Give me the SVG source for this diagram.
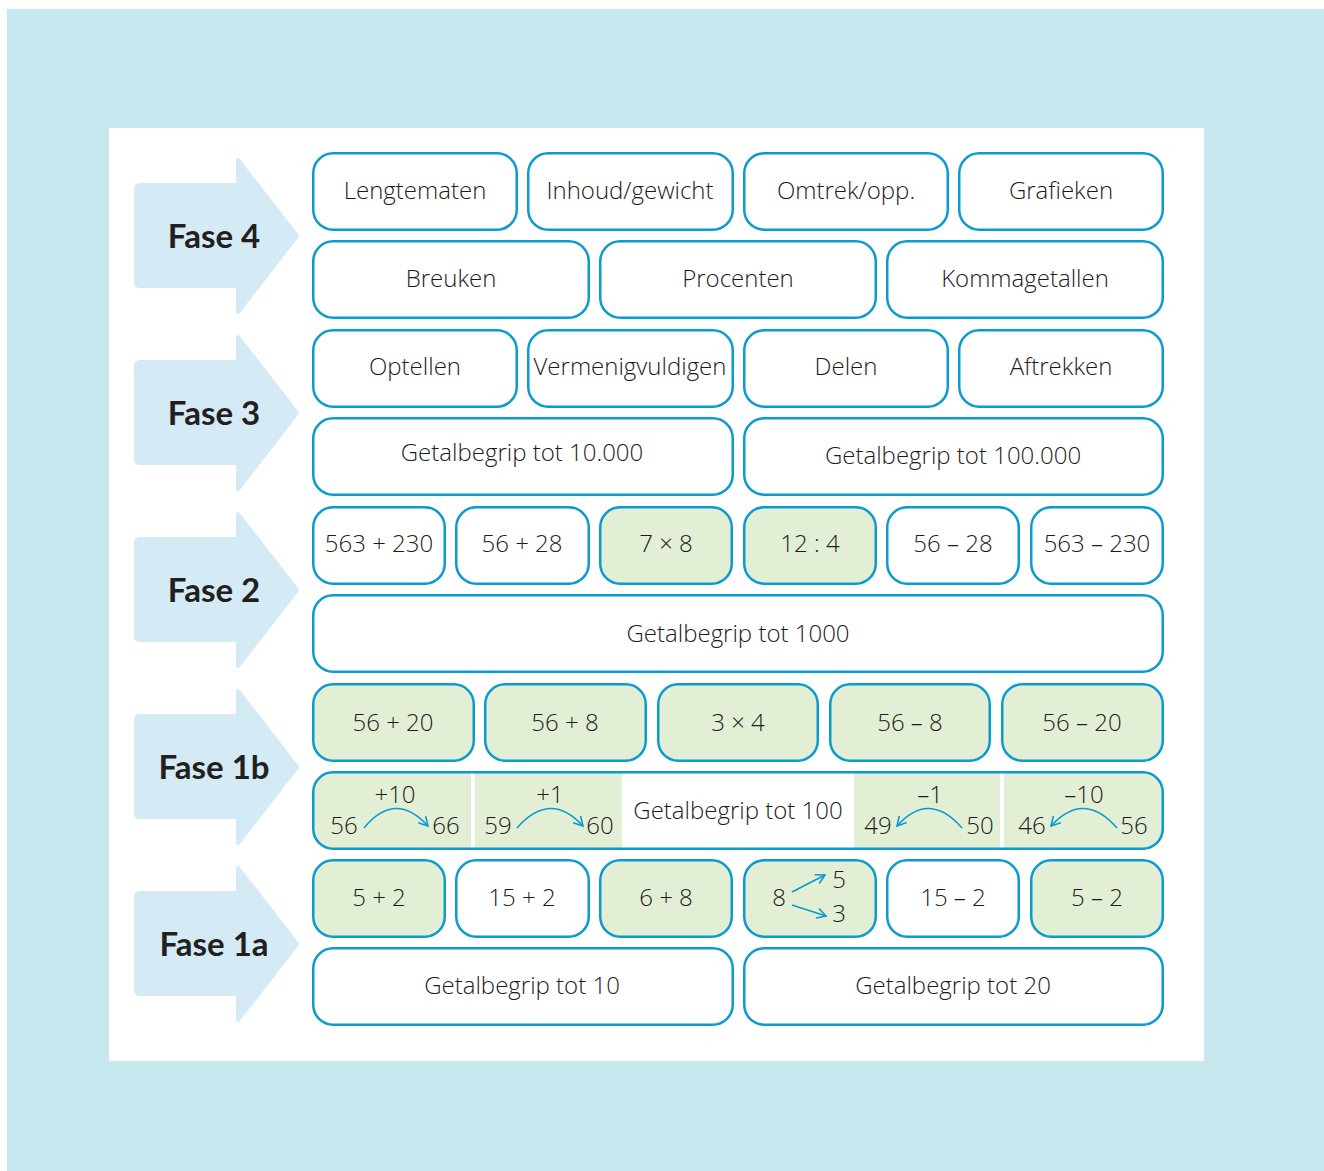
<svg xmlns="http://www.w3.org/2000/svg" width="1324" height="1171" viewBox="0 0 1324 1171">
<style>
.b{fill:#ffffff;stroke:#0b9bd0;stroke-width:2.5}
.g{fill:#e2efd5;stroke:#0b9bd0;stroke-width:2.5}
.t{font-family:"Open Sans","Liberation Sans",sans-serif;font-size:24px;font-weight:300;fill:#1e1b1c;text-anchor:middle}
.f{font-family:Lato,"Liberation Sans",sans-serif;font-size:33px;font-weight:bold;fill:#231f20;text-anchor:middle}
.ar{fill:#d4eaf4;stroke:#d4eaf4;stroke-width:4;stroke-linejoin:round}
.c{fill:none;stroke:#0b9bd0;stroke-width:1.6}
</style>
<defs>
<marker id="m" viewBox="0 0 12 12" refX="10" refY="6" markerWidth="12" markerHeight="12" markerUnits="userSpaceOnUse" orient="auto">
<path d="M1,1 L10,6 L1,11" fill="none" stroke="#0b9bd0" stroke-width="1.6"/>
</marker>
<clipPath id="r8"><rect x="313" y="772" width="850" height="77" rx="20"/></clipPath>
</defs>
<rect x="0" y="0" width="1324" height="1171" fill="#ffffff"/>
<rect x="7" y="9" width="1317" height="1162" fill="#c8e8ef"/>
<rect x="109" y="128" width="1095" height="933" fill="#ffffff"/>

<g id="phases">
<g id="fase4"><path class="ar" d="M140,185 H238 V160 L297,236 L238,312 V286 H140 Q136,286 136,282 V189 Q136,185 140,185 Z"/><text class="f" x="214" y="248">Fase 4</text></g>
<g id="fase3"><path class="ar" d="M140,362 H238 V337 L297,413 L238,489 V463 H140 Q136,463 136,459 V366 Q136,362 140,362 Z"/><text class="f" x="214" y="425">Fase 3</text></g>
<g id="fase2"><path class="ar" d="M140,539 H238 V514 L297,590 L238,666 V640 H140 Q136,640 136,636 V543 Q136,539 140,539 Z"/><text class="f" x="214" y="602">Fase 2</text></g>
<g id="fase1b"><path class="ar" d="M140,716 H238 V691 L297,767 L238,843 V817 H140 Q136,817 136,813 V720 Q136,716 140,716 Z"/><text class="f" x="214" y="779">Fase 1b</text></g>
<g id="fase1a"><path class="ar" d="M140,893 H238 V868 L297,944 L238,1020 V994 H140 Q136,994 136,990 V897 Q136,893 140,893 Z"/><text class="f" x="214" y="956">Fase 1a</text></g>
</g>

<g id="row1">
<g id="lengtematen"><rect class="b" x="313.25" y="153.25" width="203.5" height="76.5" rx="20"/><text class="t" x="415" y="199">Lengtematen</text></g>
<g id="inhoud"><rect class="b" x="528.25" y="153.25" width="204.5" height="76.5" rx="20"/><text class="t" x="630" y="199">Inhoud/gewicht</text></g>
<g id="omtrek"><rect class="b" x="744.25" y="153.25" width="203.5" height="76.5" rx="20"/><text class="t" x="846" y="199">Omtrek/opp.</text></g>
<g id="grafieken"><rect class="b" x="959.25" y="153.25" width="203.5" height="76.5" rx="20"/><text class="t" x="1061" y="199">Grafieken</text></g>
</g>
<g id="row2">
<g id="breuken"><rect class="b" x="313.25" y="241.25" width="275.5" height="76.5" rx="20"/><text class="t" x="451" y="287">Breuken</text></g>
<g id="procenten"><rect class="b" x="600.25" y="241.25" width="275.5" height="76.5" rx="20"/><text class="t" x="738" y="287">Procenten</text></g>
<g id="kommagetallen"><rect class="b" x="887.25" y="241.25" width="275.5" height="76.5" rx="20"/><text class="t" x="1025" y="287">Kommagetallen</text></g>
</g>
<g id="row3">
<g id="optellen"><rect class="b" x="313.25" y="330.25" width="203.5" height="76.5" rx="20"/><text class="t" x="415" y="375">Optellen</text></g>
<g id="vermenigvuldigen"><rect class="b" x="528.25" y="330.25" width="204.5" height="76.5" rx="20"/><text class="t" x="630" y="375">Vermenigvuldigen</text></g>
<g id="delen"><rect class="b" x="744.25" y="330.25" width="203.5" height="76.5" rx="20"/><text class="t" x="846" y="375">Delen</text></g>
<g id="aftrekken"><rect class="b" x="959.25" y="330.25" width="203.5" height="76.5" rx="20"/><text class="t" x="1061" y="375">Aftrekken</text></g>
</g>
<g id="row4">
<g id="gb10000"><rect class="b" x="313.25" y="418.25" width="419.5" height="76.5" rx="20"/><text class="t" x="522" y="461">Getalbegrip tot 10.000</text></g>
<g id="gb100000"><rect class="b" x="744.25" y="418.25" width="418.5" height="76.5" rx="20"/><text class="t" x="953" y="464">Getalbegrip tot 100.000</text></g>
</g>
<g id="row5">
<g id="e563p"><rect class="b" x="313.25" y="507.25" width="131.5" height="76.5" rx="20"/><text class="t" x="379" y="552">563 + 230</text></g>
<g id="e56p28"><rect class="b" x="456.25" y="507.25" width="132.5" height="76.5" rx="20"/><text class="t" x="522" y="552">56 + 28</text></g>
<g id="e7x8"><rect class="g" x="600.25" y="507.25" width="131.5" height="76.5" rx="20"/><text class="t" x="666" y="552">7 × 8</text></g>
<g id="e12d4"><rect class="g" x="744.25" y="507.25" width="131.5" height="76.5" rx="20"/><text class="t" x="810" y="552">12 : 4</text></g>
<g id="e56m28"><rect class="b" x="887.25" y="507.25" width="131.5" height="76.5" rx="20"/><text class="t" x="953" y="552">56 – 28</text></g>
<g id="e563m"><rect class="b" x="1031.25" y="507.25" width="131.5" height="76.5" rx="20"/><text class="t" x="1097" y="552">563 – 230</text></g>
</g>
<g id="row6">
<g id="gb1000"><rect class="b" x="313.25" y="595.25" width="849.5" height="76.5" rx="20"/><text class="t" x="738" y="642">Getalbegrip tot 1000</text></g>
</g>
<g id="row7">
<g id="e56p20"><rect class="g" x="313.25" y="684.25" width="160.5" height="76.5" rx="20"/><text class="t" x="393" y="731">56 + 20</text></g>
<g id="e56p8"><rect class="g" x="485.25" y="684.25" width="160.5" height="76.5" rx="20"/><text class="t" x="565" y="731">56 + 8</text></g>
<g id="e3x4"><rect class="g" x="658.25" y="684.25" width="159.5" height="76.5" rx="20"/><text class="t" x="738" y="731">3 × 4</text></g>
<g id="e56m8"><rect class="g" x="830.25" y="684.25" width="159.5" height="76.5" rx="20"/><text class="t" x="910" y="731">56 – 8</text></g>
<g id="e56m20"><rect class="g" x="1002.25" y="684.25" width="160.5" height="76.5" rx="20"/><text class="t" x="1082" y="731">56 – 20</text></g>
</g>
<g id="row8">
<g id="gb100">
<rect x="313.25" y="772.25" width="849.5" height="76.5" rx="20" fill="#ffffff"/>
<g clip-path="url(#r8)">
<rect x="312" y="771" width="159" height="79" fill="#e2efd5"/>
<rect x="475" y="771" width="147" height="79" fill="#e2efd5"/>
<rect x="854" y="771" width="146" height="79" fill="#e2efd5"/>
<rect x="1004" y="771" width="160" height="79" fill="#e2efd5"/>
</g>
<rect x="313.25" y="772.25" width="849.5" height="76.5" rx="20" fill="none" stroke="#0b9bd0" stroke-width="2.5"/>
<text class="t" x="738" y="819">Getalbegrip tot 100</text>
<text class="t" x="344" y="834">56</text><text class="t" x="395" y="803">+10</text><text class="t" x="446" y="834">66</text>
<path class="c" d="M364,828 Q395,790 428,826" marker-end="url(#m)"/>
<text class="t" x="498" y="834">59</text><text class="t" x="550" y="803">+1</text><text class="t" x="600" y="834">60</text>
<path class="c" d="M517,828 Q550,790 583,826" marker-end="url(#m)"/>
<text class="t" x="878" y="834">49</text><text class="t" x="930" y="803">–1</text><text class="t" x="980" y="834">50</text>
<path class="c" d="M962,828 Q929,790 897,826" marker-end="url(#m)"/>
<text class="t" x="1032" y="834">46</text><text class="t" x="1084" y="803">–10</text><text class="t" x="1134" y="834">56</text>
<path class="c" d="M1117,828 Q1084,790 1051,826" marker-end="url(#m)"/>
</g>
</g>
<g id="row9">
<g id="e5p2"><rect class="g" x="313.25" y="860.25" width="131.5" height="76.5" rx="20"/><text class="t" x="379" y="906">5 + 2</text></g>
<g id="e15p2"><rect class="b" x="456.25" y="860.25" width="132.5" height="76.5" rx="20"/><text class="t" x="522" y="906">15 + 2</text></g>
<g id="e6p8"><rect class="g" x="600.25" y="860.25" width="131.5" height="76.5" rx="20"/><text class="t" x="666" y="906">6 + 8</text></g>
<g id="e8split"><rect class="g" x="744.25" y="860.25" width="131.5" height="76.5" rx="20"/>
<text class="t" x="779" y="906">8</text><text class="t" x="839" y="888">5</text><text class="t" x="839" y="922">3</text>
<path class="c" d="M792,892 L825,875" marker-end="url(#m)"/><path class="c" d="M792,905 L826,916" marker-end="url(#m)"/></g>
<g id="e15m2"><rect class="b" x="887.25" y="860.25" width="131.5" height="76.5" rx="20"/><text class="t" x="953" y="906">15 – 2</text></g>
<g id="e5m2"><rect class="g" x="1031.25" y="860.25" width="131.5" height="76.5" rx="20"/><text class="t" x="1097" y="906">5 – 2</text></g>
</g>
<g id="row10">
<g id="gb10"><rect class="b" x="313.25" y="948.25" width="419.5" height="76.5" rx="20"/><text class="t" x="522" y="994">Getalbegrip tot 10</text></g>
<g id="gb20"><rect class="b" x="744.25" y="948.25" width="418.5" height="76.5" rx="20"/><text class="t" x="953" y="994">Getalbegrip tot 20</text></g>
</g>
<g id="connectors"></g>
</svg>
